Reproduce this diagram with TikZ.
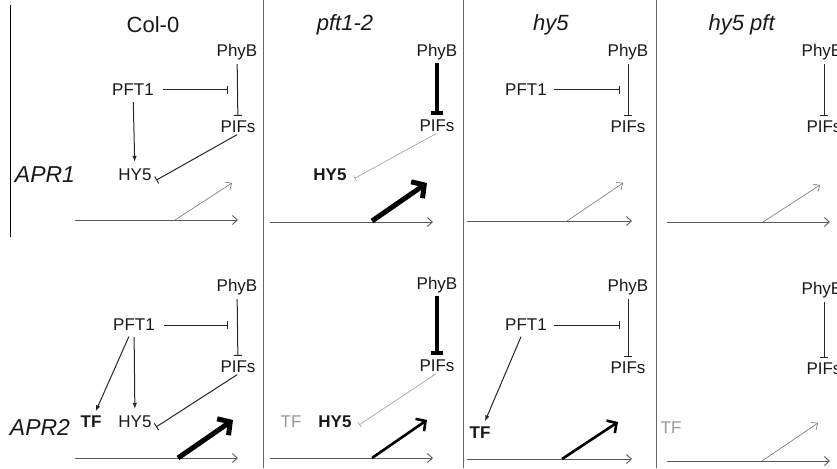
\documentclass[tikz,border=0pt]{standalone}
\usepackage{fontspec}
\setmainfont{Liberation Sans}
\usetikzlibrary{arrows.meta}
\begin{document}
\begin{tikzpicture}[x=1pt,y=-1pt,
	every node/.style={font=\fontsize{17}{20}\selectfont,inner sep=1pt,text=black!90},
	ttl/.style={font=\fontsize{22}{26}\selectfont},
	apr/.style={font=\fontsize{23}{27}\selectfont\itshape},
	bf/.style={font=\fontsize{17}{20}\selectfont\bfseries},
	off/.style={text=black!40},
	inh/.style={draw=black!85,line width=1pt,-{Bar[width=8pt]}},
	act/.style={draw=black!85,line width=1pt,-{Latex[length=6pt,width=4.5pt]}},
	faint/.style={draw=black!45,line width=0.5pt,-{Bar[width=6pt]}},
	gene/.style={draw=black!65,line width=0.9pt,-{Straight Barb[length=5pt,width=9pt]}},
	weak/.style={draw=black!55,line width=0.6pt,-{Straight Barb[length=5pt,width=9pt]}},
	mid/.style={draw=black,line width=2.6pt,-{Straight Barb[length=7pt,width=15pt]}},
	strong/.style={draw=black,line width=5pt,-{Straight Barb[length=9pt,width=20pt]}},
	heavy/.style={draw=black,line width=4pt,-{Bar[width=12pt]}}]
\useasboundingbox (0,0) rectangle (837,468);
\draw[black] (10,5) -- (10,237);
\draw[black!60,line width=1pt] (263,0) -- (263,468) (463,0) -- (463,468) (656,0) -- (656,468);
\node[ttl] (t1) at (153,25) {Col-0};
\node[ttl] (t2) at (345,25) {\textit{pft1-2}};
\node[ttl] (t3) at (551,25) {\textit{hy5}};
\node[ttl] (t4) at (742,25) {\textit{hy5 pft}};
\node[apr] (apr1) at (45,175) {APR1};
\node[apr] (apr2) at (40,427) {APR2};
\node (phyb1) at (237,52) {PhyB};
\node (pft1) at (133,90) {PFT1};
\node (pifs1) at (238,127) {PIFs};
\node (hy1) at (135,175) {HY5};
\coordinate (x1) at (228,90);
\coordinate (g1s) at (75,220);
\coordinate (g1e) at (238,220);
\coordinate (b1s) at (175,220);
\coordinate (b1e) at (232,183);
\draw[inh,shorten <=8pt] (pft1) -- (x1);
\draw[inh,shorten <=3pt,shorten >=4pt] (phyb1) -- (pifs1);
\draw[act,shorten <=5pt,shorten >=6pt] (pft1) -- (hy1);
\draw[inh,shorten <=1pt,shorten >=4pt] (pifs1.south) -- (hy1.south east);
\draw[gene] (g1s) -- (g1e);
\draw[weak] (b1s) -- (b1e);
\node (phyb2) at (437,52) {PhyB};
\node (pifs2) at (437,126) {PIFs};
\node[bf] (hy2) at (330,175) {HY5};
\coordinate (g2s) at (270,222);
\coordinate (g2e) at (433,222);
\coordinate (b2s) at (372,221);
\coordinate (b2e) at (427,183);
\draw[heavy,shorten <=2pt,shorten >=4pt] (phyb2) -- (pifs2);
\draw[faint,shorten <=1pt,shorten >=8pt] (pifs2.south) -- (hy2.south east);
\draw[gene] (g2s) -- (g2e);
\draw[strong] (b2s) -- (b2e);
\node (phyb3) at (628,52) {PhyB};
\node (pft3) at (526,90) {PFT1};
\node (pifs3) at (628,127) {PIFs};
\coordinate (x3) at (620,90);
\coordinate (g3s) at (467,221);
\coordinate (g3e) at (632,221);
\coordinate (b3s) at (567,221);
\coordinate (b3e) at (623,183);
\draw[inh,shorten <=6pt] (pft3) -- (x3);
\draw[inh,shorten <=3pt,shorten >=4pt] (phyb3) -- (pifs3);
\draw[gene] (g3s) -- (g3e);
\draw[weak] (b3s) -- (b3e);
\node (phyb4) at (822,52) {PhyB};
\node (pifs4) at (824,127) {PIFs};
\coordinate (g4s) at (667,222);
\coordinate (g4e) at (830,222);
\coordinate (b4s) at (763,222);
\coordinate (b4e) at (820,185);
\draw[inh,shorten <=3pt,shorten >=4pt] (phyb4.south -| pifs4) -- (pifs4);
\draw[gene] (g4s) -- (g4e);
\draw[weak] (b4s) -- (b4e);
\node (phyb5) at (237,287) {PhyB};
\node (pft5) at (134,325) {PFT1};
\node (pifs5) at (238,367) {PIFs};
\node[bf] (tf5) at (91,422) {TF};
\node (hy5) at (135,422) {HY5};
\coordinate (x5) at (228,325);
\coordinate (g5s) at (75,458);
\coordinate (g5e) at (238,458);
\coordinate (b5s) at (178,458);
\coordinate (b5e) at (233,420);
\draw[inh,shorten <=8pt] (pft5) -- (x5);
\draw[inh,shorten <=3pt,shorten >=4pt] (phyb5) -- (pifs5);
\draw[act,shorten <=5pt,shorten >=6pt] (pft5) -- (hy5);
\draw[act,shorten <=5pt,shorten >=4pt] (pft5) -- (tf5);
\draw[inh,shorten <=1pt,shorten >=4pt] (pifs5.south) -- (hy5.south east);
\draw[gene] (g5s) -- (g5e);
\draw[strong] (b5s) -- (b5e);
\node (phyb6) at (437,285) {PhyB};
\node (pifs6) at (437,366) {PIFs};
\node[off] (tf6) at (291,422) {TF};
\node[bf] (hy6) at (335,422) {HY5};
\coordinate (g6s) at (270,458);
\coordinate (g6e) at (433,458);
\coordinate (b6s) at (372,458);
\coordinate (b6e) at (427,420);
\draw[heavy,shorten <=2pt,shorten >=4pt] (phyb6) -- (pifs6);
\draw[faint,shorten <=1pt,shorten >=8pt] (pifs6.south) -- (hy6.south east);
\draw[gene] (g6s) -- (g6e);
\draw[mid] (b6s) -- (b6e);
\node (phyb7) at (628,287) {PhyB};
\node (pft7) at (526,325) {PFT1};
\node (pifs7) at (628,368) {PIFs};
\node[bf] (tf7) at (480,433) {TF};
\coordinate (x7) at (620,325);
\coordinate (g7s) at (467,459);
\coordinate (g7e) at (632,459);
\coordinate (b7s) at (562,459);
\coordinate (b7e) at (618,422);
\draw[inh,shorten <=6pt] (pft7) -- (x7);
\draw[inh,shorten <=3pt,shorten >=4pt] (phyb7) -- (pifs7);
\draw[act,shorten <=5pt,shorten >=5pt] (pft7) -- (tf7);
\draw[gene] (g7s) -- (g7e);
\draw[mid] (b7s) -- (b7e);
\node (phyb8) at (822,290) {PhyB};
\node (pifs8) at (824,369) {PIFs};
\node[off] (tf8) at (671,428) {TF};
\coordinate (g8s) at (667,461);
\coordinate (g8e) at (830,461);
\coordinate (b8s) at (762,461);
\coordinate (b8e) at (818,423);
\draw[inh,shorten <=3pt,shorten >=4pt] (phyb8.south -| pifs8) -- (pifs8);
\draw[gene] (g8s) -- (g8e);
\draw[weak] (b8s) -- (b8e);
\end{tikzpicture}
\end{document}
